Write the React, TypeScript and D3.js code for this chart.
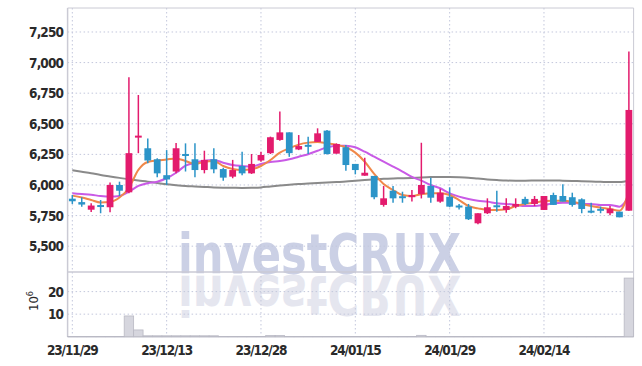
import React from "react";
import * as d3 from "d3";

const opens = [5888,5860,5798,5830,5818,6000,5940,6390,6300,6210,6080,6110,6248,6210,6122,6210,6130,6068,6155,6095,6200,6260,6368,6430,6290,6322,6352,6444,6256,6308,6172,6076,6074,5837,5953,5902,5900,5926,5992,5864,5904,5826,5823,5687,5769,5828,5796,5823,5886,5845,5796,5918,5910,5900,5883,5784,5804,5769,5782,5790];
const highs = [5918,5900,5850,5877,6020,6027,6880,6735,6380,6218,6285,6343,6340,6340,6280,6300,6140,6205,6272,6253,6272,6395,6600,6430,6408,6395,6463,6450,6340,6327,6172,6223,6074,5992,5992,5945,5959,6345,6060,5970,5981,5845,5845,5769,5891,5953,5891,5891,5904,5910,5910,5937,6005,5937,5891,5855,5823,5828,5782,7090];
const lows = [5845,5823,5780,5769,5777,5910,5932,6260,6177,6063,6000,6095,6110,6063,6095,6095,6035,6055,6080,6090,6190,6253,6362,6230,6285,6253,6352,6250,6256,6117,6087,6076,5883,5823,5855,5855,5864,5890,5855,5855,5818,5800,5714,5679,5763,5782,5774,5810,5837,5828,5796,5837,5864,5823,5769,5769,5769,5752,5736,5790];
const closes = [5867,5840,5832,5826,6000,5953,6260,6400,6200,6095,6045,6300,6242,6122,6205,6128,6060,6122,6095,6172,6245,6390,6430,6260,6318,6318,6422,6253,6335,6163,6122,6100,5900,5891,5891,5898,5918,6000,5896,5937,5823,5822,5720,5769,5818,5824,5828,5845,5845,5886,5910,5837,5864,5837,5804,5780,5790,5806,5736,6613];
const volumes = [0.1,0.1,0.1,0.1,0.1,0.1,9.2,3.0,0.4,0.4,0.4,0.4,0.4,0.4,0.4,0.4,0.1,0.1,0.1,0.1,0.1,0.5,0.5,0.1,0.1,0.1,0.1,0.1,0.1,0.1,0.1,0.1,0.1,0.1,0.1,0.1,0.1,0.6,0.1,0.1,0.1,0.1,0.1,0.1,0.1,0.1,0.1,0.1,0.1,0.1,0.1,0.1,0.1,0.1,0.1,0.1,0.1,0.1,0.1,26];
const maShort = [5913,5898,5877,5857,5861,5898,5975,6123,6188,6200,6208,6217,6196,6172,6190,6196,6155,6131,6123,6128,6155,6204,6264,6300,6330,6346,6351,6340,6329,6308,6264,6190,6090,6008,5959,5918,5910,5924,5932,5932,5918,5877,5828,5809,5796,5796,5801,5828,5845,5855,5869,5872,5872,5864,5845,5828,5815,5804,5790,5945];
const maMid = [5932,5926,5920,5910,5905,5910,5945,5992,6014,6027,6055,6100,6158,6182,6198,6204,6182,6163,6155,6150,6172,6188,6196,6210,6231,6251,6280,6308,6321,6321,6308,6272,6231,6190,6150,6109,6066,6035,6000,5973,5932,5905,5886,5872,5864,5850,5845,5837,5828,5828,5837,5850,5855,5855,5845,5845,5837,5837,5823,5905];
const maLong = [6120,6108,6096,6082,6070,6058,6046,6036,6027,6016,6005,5998,5992,5988,5984,5980,5978,5977,5976,5977,5980,5988,5995,6002,6008,6012,6016,6020,6024,6028,6034,6040,6045,6050,6053,6055,6058,6062,6065,6066,6066,6064,6060,6052,6045,6040,6036,6035,6035,6036,6037,6037,6035,6033,6030,6028,6026,6024,6024,6035];
const priceTicks = [5500,5750,6000,6250,6500,6750,7000,7250];
const volumeTicks = [10,20];
const dateTickIdx = [0,10,20,30,40,50];
const dateTickLabels = ["23/11/29","23/12/13","23/12/28","24/01/15","24/01/29","24/02/14"];

const UP = "#e31b6d";
const DOWN = "#2b94c8";
const GRID = "#c3c7dc";
const FRAME = "#cacad4";
const LABEL_FONT = "'DejaVu Sans Condensed', 'DejaVu Sans', sans-serif";

export default function App() {
  const W = 642, H = 366;
  const left = 67.6, right = 633.6;
  const pTop = 8, pBot = 272, vBot = 336.7;
  const idx = d3.range(opens.length);
  const x = d3.scaleBand<number>().domain(idx).range([left, right]).padding(0);
  const cx = (i: number) => (x(i) as number) + x.bandwidth() / 2;
  const y = d3.scaleLinear().domain([5289, 7446]).range([pBot, pTop]);
  const yv = d3.scaleLinear().domain([0, 28.7]).range([vBot, pBot]);
  const bw = x.bandwidth() * 0.72;

  const line = (arr: number[]) =>
    d3.line<number>().x((_, i) => cx(i)).y((d) => y(d)).curve(d3.curveMonotoneX)(arr) || "";

  return (
    <svg width={W} height={H} style={{ position: "absolute", left: 0, top: 0, background: "#fff" }}>
      {/* watermark */}
      <defs>
        <text id="wm" x={178} y={273} fontFamily="'DejaVu Sans', sans-serif" fontWeight={700} fontSize={55}
          textLength={283} lengthAdjust="spacingAndGlyphs">investCRUX</text>
      </defs>
      <use href="#wm" fill="#e5e6ef" transform="translate(0,549) scale(1,-1)" />
      <use href="#wm" fill="#cbd0e5" />
      {/* horizontal grid */}
      {priceTicks.map((t) => (
        <line key={"pg" + t} x1={left} x2={right} y1={y(t)} y2={y(t)} stroke={GRID} strokeDasharray="1.5,2.5" />
      ))}
      {volumeTicks.map((t) => (
        <line key={"vg" + t} x1={left} x2={right} y1={yv(t)} y2={yv(t)} stroke={GRID} strokeDasharray="1.5,2.5" />
      ))}
      {/* vertical grid */}
      {dateTickIdx.map((i) => (
        <line key={"xg" + i} x1={cx(i)} x2={cx(i)} y1={pTop} y2={vBot} stroke={GRID} strokeDasharray="1.5,2.5" />
      ))}
      {/* frame */}
      <line x1={left} x2={right} y1={pTop} y2={pTop} stroke={FRAME} />
      <line x1={left} x2={right} y1={pBot} y2={pBot} stroke={FRAME} strokeWidth={1.5} />
      <line x1={left} x2={right} y1={vBot} y2={vBot} stroke={FRAME} strokeWidth={1.5} />
      <line x1={left} x2={left} y1={pTop} y2={vBot} stroke={FRAME} strokeWidth={1.5} />
      <line x1={right} x2={right} y1={pTop} y2={vBot} stroke={FRAME} />
      {/* volume bars */}
      {volumes.map((v, i) => (
        <rect key={"v" + i} x={x(i) as number} width={x.bandwidth()} y={yv(v)} height={vBot - yv(v)}
          fill="#d6d6de" stroke="#b9b9c4" strokeWidth={0.8} />
      ))}
      {/* moving averages */}
      <path d={line(maLong)} fill="none" stroke="#8a8a8a" strokeWidth={2} />
      <path d={line(maMid)} fill="none" stroke="#c95ae6" strokeWidth={2} />
      <path d={line(maShort)} fill="none" stroke="#f0884a" strokeWidth={2} />
      {/* candles */}
      {idx.map((i) => {
        const up = closes[i] > opens[i];
        const col = up ? UP : DOWN;
        const top = y(Math.max(opens[i], closes[i]));
        const bot = y(Math.min(opens[i], closes[i]));
        const h = Math.max(2, bot - top);
        return (
          <g key={"c" + i}>
            <line x1={cx(i)} x2={cx(i)} y1={y(highs[i])} y2={y(lows[i])} stroke={col} strokeWidth={1.5} />
            <rect x={cx(i) - bw / 2} width={bw} y={h === 2 ? (top + bot) / 2 - 1 : top} height={h} fill={col} />
          </g>
        );
      })}
      {/* y axis labels */}
      <g fontFamily={LABEL_FONT} fontSize={13.5} fontWeight={700} fill="#2a2a2a" textAnchor="end">
        {priceTicks.map((t) => (
          <text key={"pl" + t} x={63} y={y(t) + 5} letterSpacing={-0.9}>{d3.format(",")(t)}</text>
        ))}
        {volumeTicks.map((t) => (
          <text key={"vl" + t} x={63} y={yv(t) + 5} letterSpacing={-0.9}>{t}</text>
        ))}
      </g>
      <text transform="translate(38,301) rotate(-90)" fontFamily={LABEL_FONT} fontSize={13} fill="#2a2a2a" textAnchor="middle">
        10<tspan dy={-5} fontSize={9}>6</tspan>
      </text>
      {/* x axis labels */}
      <g fontFamily={LABEL_FONT} fontSize={13.5} fontWeight={700} fill="#2a2a2a" textAnchor="middle">
        {dateTickIdx.map((i, k) => (
          <text key={"xl" + i} x={cx(i)} y={355} letterSpacing={-1.1}>{dateTickLabels[k]}</text>
        ))}
      </g>
    </svg>
  );
}
